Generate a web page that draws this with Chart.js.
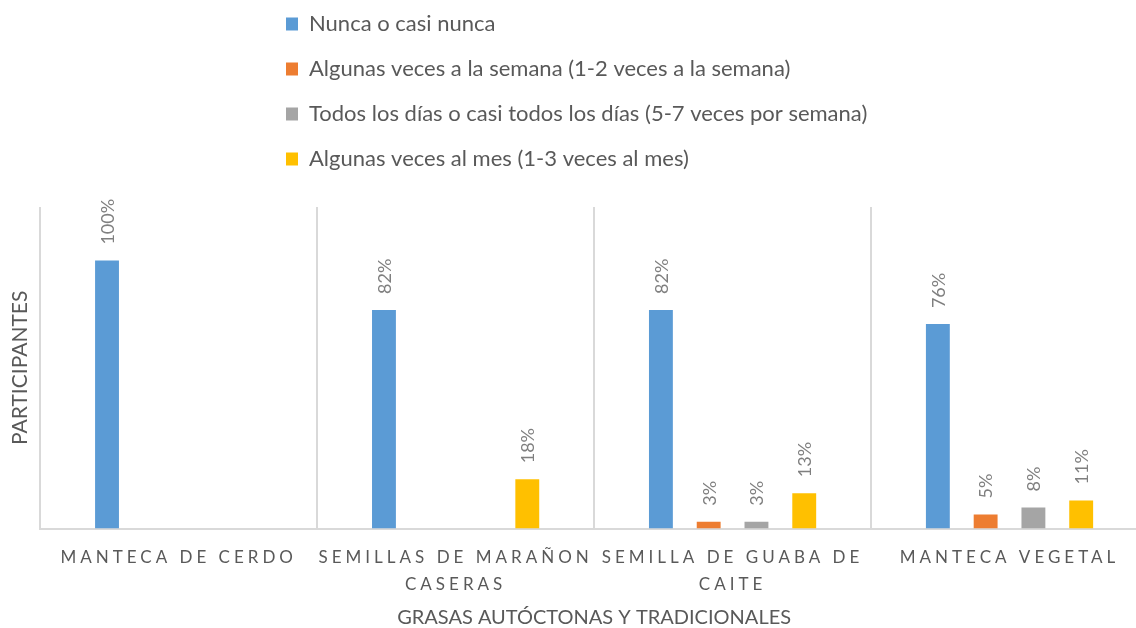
<!DOCTYPE html>
<html><head><meta charset="utf-8">
<script src="https://cdn.jsdelivr.net/npm/chart.js@4.4.0/dist/chart.umd.min.js"></script>
<style>
html,body{margin:0;padding:0;overflow:hidden;background:#fff}
#wrap{width:1150px;height:628px;position:relative}
</style>
</head><body>
<div id="wrap"><canvas id="c"></canvas></div>
<script>
// ---- data ----
const categories = ['MANTECA DE CERDO', ['SEMILLAS DE MARAÑON', 'CASERAS'], ['SEMILLA DE GUABA DE', 'CAITE'], 'MANTECA VEGETAL'];
const seriesNames = [
  'Nunca o casi nunca',
  'Algunas veces a la semana (1-2 veces a la semana)',
  'Todos los días o casi todos los días (5-7 veces por semana)',
  'Algunas veces al mes (1-3 veces al mes)'
];
const nunca  = [100, 81.6, 81.6, 76.3];
const semana = [0, 0, 2.6, 5.3];
const diario = [0, 0, 2.6, 7.9];
const mes    = [0, 18.4, 13.2, 10.5];
const seriesColors = ['#5B9BD5', '#ED7D31', '#A5A5A5', '#FFC000'];
const yTitle = 'PARTICIPANTES';
const xTitle = 'GRASAS AUTÓCTONAS Y TRADICIONALES';

const TEXT = '#595959';
Chart.defaults.font.family = 'Lato, "Open Sans", sans-serif';
Chart.defaults.color = TEXT;

const seriesValues = [nunca, semana, diario, mes];
const datasets = seriesValues.map((vals, i) => ({
  label: seriesNames[i],
  data: vals,
  backgroundColor: seriesColors[i],
  borderWidth: 0,
  categoryPercentage: 0.69,
  barPercentage: 0.5
}));

// value labels, rotated
const barLabels = {
  id: 'barLabels',
  afterDatasetsDraw(chart) {
    const ctx = chart.ctx;
    ctx.save();
    ctx.font = '18px Lato, "Open Sans", sans-serif';
    ctx.fillStyle = '#7F7F7F';
    ctx.textAlign = 'left';
    ctx.textBaseline = 'middle';
    chart.data.datasets.forEach((ds, i) => {
      const meta = chart.getDatasetMeta(i);
      if (meta.hidden) return;
      meta.data.forEach((el, j) => {
        const v = ds.data[j];
        if (!v) return;
        ctx.save();
        ctx.translate(el.x + 1, el.y - 16);
        ctx.rotate(-Math.PI / 2);
        ctx.fillText(Math.round(v) + '%', 0, 0);
        ctx.restore();
      });
    });
    ctx.restore();
  }
};

// legend as one item per row, left aligned; spaced x tick labels
const LEGEND_X = 286, LEGEND_TOP = -10, LEGEND_WRAP = 600;
const layoutTweaks = {
  id: 'layoutTweaks',
  beforeLayout(chart) {
    const lg = chart.legend;
    if (lg && !lg._patched) {
      const orig = lg._fitRows;
      lg._fitRows = function (...a) {
        const mw = this.maxWidth;
        this.maxWidth = LEGEND_WRAP;
        const r = orig.apply(this, a);
        this.maxWidth = mw;
        return r;
      };
      lg._patched = true;
    }
  },
  afterLayout(chart) {
    const lg = chart.legend;
    if (lg) {
      const pad = lg.options.labels.padding;
      const h = lg.height;
      lg.left = LEGEND_X - pad;
      lg.right = LEGEND_X + 680;
      lg.top = LEGEND_TOP;
      lg.bottom = LEGEND_TOP + h;
    }
    const xs = chart.scales.x;
    if (xs && !xs._spaced) {
      const od = xs.drawLabels;
      xs.drawLabels = function (a) {
        const ctx = this.ctx;
        ctx.save();
        ctx.letterSpacing = '4px';
        od.call(this, a);
        ctx.restore();
      };
      xs._spaced = true;
    }
  }
};

new Chart(document.getElementById('c'), {
  type: 'bar',
  data: { labels: categories, datasets },
  plugins: [barLabels, layoutTweaks],
  options: {
    responsive: true,
    maintainAspectRatio: false,
    animation: false,
    layout: { padding: { top: 17, left: 4, right: 2, bottom: 0 } },
    plugins: {
      legend: {
        position: 'top',
        align: 'start',
        labels: {
          boxWidth: 12,
          boxHeight: 13,
          padding: 23,
          color: TEXT,
          font: { size: 22 }
        }
      },
      tooltip: { enabled: false }
    },
    scales: {
      x: {
        grid: { display: true, offset: true, color: '#D9D9D9', lineWidth: 2, drawTicks: false },
        border: { display: true, color: '#D9D9D9', width: 2 },
        ticks: {
          color: TEXT,
          font: { size: 17, lineHeight: 1.6 },
          padding: 15,
          maxRotation: 0,
          minRotation: 0,
          autoSkip: false
        },
        title: {
          display: true,
          text: xTitle,
          color: TEXT,
          font: { size: 20 },
          padding: { top: -7, bottom: -2 }
        }
      },
      y: {
        min: 0,
        max: 120,
        grid: { display: false, drawTicks: false },
        border: { display: false },
        ticks: { display: false },
        title: {
          display: true,
          text: yTitle,
          color: TEXT,
          font: { size: 21 },
          padding: { top: 4, bottom: 7 }
        }
      }
    }
  }
});
</script>
</body></html>
